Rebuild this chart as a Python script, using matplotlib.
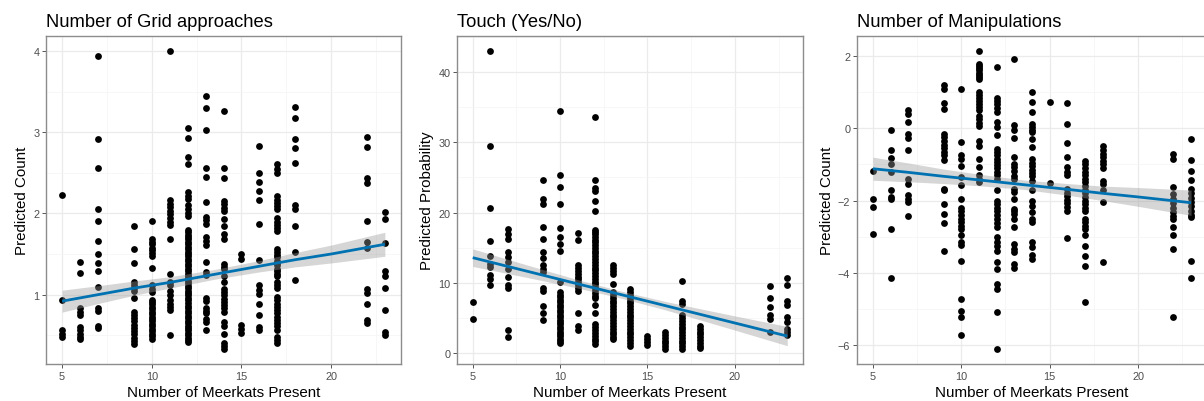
import numpy as np
import matplotlib
matplotlib.use("Agg")
import matplotlib.pyplot as plt
from matplotlib.ticker import MultipleLocator

plt.rcParams['font.family'] = ['Liberation Sans', 'DejaVu Sans']

# ---------------- data ----------------
titles = ["Number of Grid approaches", "Touch (Yes/No)", "Number of Manipulations"]
y_labels = ["Predicted Count", "Predicted Probability", "Predicted Count"]
x_label = "Number of Meerkats Present"
x_ticks = [5, 10, 15, 20]
y_ticks_grid = [1, 2, 3, 4]
y_ticks_touch = [0, 10, 20, 30, 40]
y_ticks_manip = [-6, -4, -2, 0, 2]

grid_approaches = {
    5: [2.23, 0.94, 0.57, 0.52, 0.48],
    6: [1.40, 1.27, 0.83, 0.79, 0.75, 0.60, 0.56, 0.52, 0.48, 0.45],
    7: [3.94, 2.91, 2.56, 2.06, 1.91, 1.66, 1.50, 1.39, 1.29, 1.09, 0.84, 0.80, 0.62, 0.59],
    9: [1.85, 1.56, 1.39, 1.16, 1.12, 1.08, 1.04, 0.96, 0.79, 0.75, 0.71, 0.67, 0.63, 0.59,
        0.55, 0.51, 0.47, 0.43, 0.39],
    10: [1.91, 1.68, 1.65, 1.62, 1.58, 1.55, 1.51, 1.48, 1.33, 1.12, 1.07, 1.03, 0.94, 0.91,
         0.88, 0.85, 0.82, 0.79, 0.76, 0.73, 0.70, 0.67, 0.64, 0.61, 0.58, 0.55, 0.52, 0.49, 0.46],
    11: [4.00, 2.16, 2.12, 2.08, 2.03, 1.99, 1.94, 1.90, 1.86, 1.69, 1.25, 1.16, 1.12, 1.04,
         0.99, 0.94, 0.89, 0.85, 0.81, 0.50],
    12: [3.05, 2.93, 2.69, 2.61, 2.26, 2.22, 2.18, 2.10, 2.06, 2.00, 1.97, 1.80, 1.77, 1.74,
         1.71, 1.68, 1.65, 1.62, 1.59, 1.56, 1.53, 1.50, 1.47, 1.44, 1.41, 1.38, 1.35, 1.32,
         1.29, 1.26, 1.23, 1.20, 1.17, 1.14, 1.11, 1.08, 1.05, 1.02, 0.99, 0.96, 0.93, 0.90,
         0.86, 0.83, 0.80, 0.77, 0.74, 0.71, 0.68, 0.65, 0.62, 0.59, 0.56, 0.53, 0.50, 0.47,
         0.44, 0.42],
    13: [3.44, 3.30, 3.03, 2.56, 2.45, 2.14, 1.96, 1.92, 1.87, 1.71, 1.66, 1.61, 1.40, 1.28,
         1.24, 0.96, 0.92, 0.83, 0.80, 0.77, 0.70, 0.66, 0.57],
    14: [3.26, 2.56, 2.44, 2.15, 2.11, 2.07, 2.03, 1.93, 1.84, 1.75, 1.68, 1.38, 1.34, 1.31,
         1.23, 1.15, 1.07, 1.03, 0.99, 0.95, 0.91, 0.87, 0.83, 0.79, 0.66, 0.62, 0.51, 0.41,
         0.37, 0.33],
    15: [1.50, 1.44, 0.63, 0.58, 0.53],
    16: [2.83, 2.50, 2.39, 2.28, 2.16, 1.87, 1.43, 1.12, 1.06, 1.01, 0.88, 0.75, 0.60, 0.57],
    17: [2.61, 2.55, 2.50, 2.21, 2.17, 2.13, 2.09, 2.05, 1.94, 1.90, 1.86, 1.82, 1.78, 1.56,
         1.53, 1.49, 1.46, 1.42, 1.39, 1.36, 1.32, 1.29, 1.26, 1.23, 1.16, 1.12, 1.08, 0.97,
         0.93, 0.89, 0.85, 0.81, 0.77, 0.73, 0.69, 0.65, 0.61, 0.57, 0.48, 0.44, 0.40],
    18: [3.31, 3.17, 2.92, 2.80, 2.62, 2.10, 2.06, 1.84, 1.53, 1.18],
    22: [2.94, 2.82, 2.44, 2.37, 1.91, 1.65, 1.58, 1.07, 1.02, 0.88, 0.69, 0.65],
    23: [2.02, 1.93, 1.63, 1.29, 1.23, 1.08, 0.81, 0.54, 0.50],
}

touch_prob = {
    5: [7.3, 4.9],
    6: [43.0, 29.5, 20.7, 15.9, 13.9, 12.7, 12.3, 11.2, 10.6, 9.7],
    7: [17.7, 17.0, 16.2, 14.4, 13.7, 13.0, 12.0, 10.8, 9.7, 9.3, 3.3, 2.3],
    9: [24.6, 21.9, 21.3, 18.0, 16.3, 14.4, 13.6, 12.5, 12.0, 11.6, 9.3, 8.9, 6.7, 5.8, 4.7],
    10: [34.5, 25.3, 23.7, 21.2, 17.8, 16.5, 15.5, 14.5, 10.2, 8.7, 8.3, 8.0, 7.6, 7.3, 6.9,
         6.6, 6.2, 5.9, 5.5, 5.2, 4.8, 4.5, 4.1, 3.8, 3.4, 3.1, 2.7, 2.4, 2.0, 1.7, 1.4],
    11: [17.1, 16.1, 12.5, 12.1, 11.7, 11.3, 10.9, 10.5, 10.1, 9.7, 9.3, 8.9, 5.8, 3.9, 3.3],
    12: [33.6, 24.6, 23.5, 23.1, 21.7, 20.2, 17.6, 17.2, 16.9, 16.5, 16.1, 15.8, 15.4, 15.0,
         14.6, 14.2, 13.8, 13.4, 13.0, 12.6, 12.2, 11.8, 11.4, 11.0, 10.6, 10.2, 9.8, 9.4,
         9.0, 8.6, 8.2, 7.8, 6.8, 5.8, 4.1, 3.7, 3.3, 2.9, 2.5, 2.1, 1.7, 1.3],
    13: [12.5, 12.1, 11.7, 11.3, 9.8, 8.7, 8.3, 7.9, 7.5, 7.1, 6.7, 6.3, 5.9, 5.5, 5.1, 4.7,
         4.3, 3.9, 3.5, 3.1, 2.7, 2.3, 2.0],
    14: [9.1, 8.7, 8.3, 7.9, 7.5, 7.1, 6.7, 6.3, 5.9, 5.5, 5.1, 4.7, 4.3, 3.9, 3.5, 3.1, 2.7,
         2.3, 1.9, 1.5, 1.1],
    15: [2.4, 2.0, 1.6, 1.2],
    16: [3.0, 2.6, 2.2, 1.8, 1.4, 1.0, 0.6],
    17: [10.3, 7.5, 7.0, 5.4, 5.0, 4.6, 4.2, 3.8, 3.4, 3.0, 2.6, 2.2, 1.8, 1.4, 1.0, 0.6],
    18: [3.9, 3.5, 3.1, 2.7, 2.3, 1.9, 1.5, 1.1, 0.8],
    22: [9.6, 7.8, 6.6, 5.5, 4.9, 3.0],
    23: [10.7, 9.7, 7.5, 6.8, 5.1, 4.5, 3.5, 3.0, 2.6],
}

manipulations = {
    5: [-1.17, -1.95, -2.18, -2.93],
    6: [-0.06, -0.59, -0.83, -0.98, -1.21, -1.70, -1.91, -1.95, -2.80, -4.14],
    7: [0.51, 0.40, 0.17, -0.15, -0.27, -0.60, -1.40, -1.54, -1.86, -1.95, -2.05, -2.42],
    9: [1.21, 1.09, 0.70, 0.54, -0.15, -0.25, -0.35, -0.45, -0.55, -0.65, -0.75, -0.88,
        -1.68, -1.72, -2.09, -2.37, -2.62, -3.40],
    10: [1.09, -0.38, -0.73, -0.85, -1.05, -1.35, -1.58, -1.95, -2.20, -2.30, -2.40, -2.50,
         -2.60, -2.70, -2.80, -2.95, -3.16, -3.22, -3.66, -4.72, -5.05, -5.23, -5.71],
    11: [2.14, 1.78, 1.72, 1.66, 1.60, 1.54, 1.48, 1.42, 1.36, 1.00, 0.92, 0.83, 0.75, 0.67,
         0.58, 0.50, 0.35, 0.25, 0.15, 0.05, -0.34, -0.48, -0.85, -1.08, -1.30, -1.40, -1.50],
    12: [1.70, 0.84, 0.75, 0.66, 0.57, 0.44, 0.17, 0.03, -0.20, -0.57, -0.66, -0.75, -0.84,
         -0.93, -1.02, -1.11, -1.20, -1.30, -1.40, -1.72, -2.00, -2.10, -2.20, -2.30, -2.40,
         -2.50, -2.62, -2.74, -3.02, -3.14, -3.26, -3.39, -3.71, -3.89, -4.31, -4.45, -5.09,
         -6.11],
    13: [1.91, 0.08, -0.06, -0.27, -0.80, -0.98, -1.08, -1.17, -1.31, -1.40, -1.68, -1.77,
         -1.95, -2.23, -2.30, -2.37, -2.51, -2.74, -3.20, -3.34, -3.43, -3.76, -3.88],
    14: [1.00, 0.72, 0.45, 0.12, 0.03, -0.05, -0.11, -0.29, -0.52, -0.85, -0.95, -1.05,
         -1.15, -1.25, -1.31, -1.45, -1.72, -2.00, -2.14, -2.32, -2.50, -2.60, -3.15, -3.29,
         -3.52, -3.62],
    15: [0.73, -1.51],
    16: [0.70, 0.11, -0.40, -0.80, -1.08, -1.20, -1.30, -1.68, -1.78, -1.88, -1.98, -2.08,
         -2.18, -2.30, -3.05],
    17: [-0.90, -1.00, -1.10, -1.20, -1.30, -1.40, -1.50, -1.60, -1.70, -1.80, -1.90, -2.00,
         -2.10, -2.20, -2.30, -2.50, -2.60, -2.70, -2.80, -2.95, -3.25, -3.53, -3.80, -4.82],
    18: [-0.50, -0.60, -0.70, -0.80, -0.90, -1.00, -1.10, -1.45, -1.55, -1.72, -2.05, -3.69],
    22: [-0.71, -0.85, -1.63, -1.82, -1.95, -2.08, -2.20, -2.32, -2.42, -2.51, -2.74, -2.95,
         -3.34, -5.21],
    23: [-0.31, -0.87, -1.17, -1.43, -1.68, -1.80, -1.92, -2.04, -2.16, -2.28, -2.40, -2.46,
         -3.68, -4.15],
}

# linear-model smoother (fit line and 95% band half-width)
smooth_x = [5, 7, 9, 11, 13.5, 16, 18, 20, 23]
grid_fit = [0.92, 1.00, 1.08, 1.15, 1.25, 1.35, 1.43, 1.50, 1.62]
grid_hw = [0.135, 0.110, 0.088, 0.070, 0.060, 0.070, 0.088, 0.110, 0.148]
touch_fit = [13.60, 12.36, 11.12, 9.88, 8.34, 6.79, 5.55, 4.31, 2.45]
touch_hw = [1.25, 1.01, 0.79, 0.60, 0.50, 0.60, 0.79, 1.01, 1.37]
manip_fit = [-1.12, -1.22, -1.33, -1.43, -1.56, -1.69, -1.80, -1.90, -2.06]
manip_hw = [0.32, 0.26, 0.20, 0.16, 0.13, 0.16, 0.20, 0.26, 0.35]


def flatten(d):
    xs, ys = [], []
    for k, vals in d.items():
        xs.extend([k] * len(vals))
        ys.extend(vals)
    return np.array(xs, float), np.array(ys, float)


# ---------------- figure ----------------
W, H = 1204, 402
fig = plt.figure(figsize=(W / 100, H / 100), dpi=100)

panels = [
    (grid_approaches, grid_fit, grid_hw, y_ticks_grid, (46, 401)),
    (touch_prob, touch_fit, touch_hw, y_ticks_touch, (457, 803)),
    (manipulations, manip_fit, manip_hw, y_ticks_manip, (857, 1207)),
]
top_px, bot_px = 37, 365

for i, (data, fit, hw, yt, (l, r)) in enumerate(panels):
    ax = fig.add_axes([l / W, 1 - bot_px / H, (r - l) / W, (bot_px - top_px) / H])
    x, y = flatten(data)
    sx = np.array(smooth_x, float)
    f = np.array(fit, float)
    h = np.array(hw, float)
    lo, hi = f - h, f + h

    ax.scatter(x, y, s=24, color='black', linewidths=0, zorder=2)
    ax.fill_between(sx, lo, hi, color='#999999', alpha=0.4, linewidth=0, zorder=3)
    ax.plot(sx, f, color='#0072B2', linewidth=2.0, zorder=4, solid_capstyle='butt')

    xr = x.max() - x.min()
    ax.set_xlim(x.min() - 0.05 * xr, x.max() + 0.05 * xr)
    ylo, yhi = min(y.min(), lo.min()), max(y.max(), hi.max())
    yr = yhi - ylo
    ax.set_ylim(ylo - 0.05 * yr, yhi + 0.05 * yr)

    ax.set_xticks(x_ticks)
    ax.set_yticks(yt)
    ax.xaxis.set_minor_locator(MultipleLocator(2.5))
    step = yt[1] - yt[0]
    ax.yaxis.set_minor_locator(MultipleLocator(step / 2))
    ax.grid(which='major', color='#EBEBEB', linewidth=0.9)
    ax.grid(which='minor', color='#F4F4F4', linewidth=0.5)
    ax.set_axisbelow(True)
    ax.tick_params(which='major', direction='out', length=2.6, width=0.7,
                   color='#555555', labelsize=7.8, labelcolor='#4D4D4D', pad=2.2)
    ax.tick_params(which='minor', length=0)
    for sp in ax.spines.values():
        sp.set_color('#8C8C8C')
        sp.set_linewidth(1.0)

    ax.set_xlabel(x_label, fontsize=10.9, labelpad=3.2)
    ax.set_ylabel(y_labels[i], fontsize=10.9, labelpad=3)
    ax.set_title(titles[i], loc='left', fontsize=13.2, pad=7)

fig.savefig("out.png", dpi=100)
